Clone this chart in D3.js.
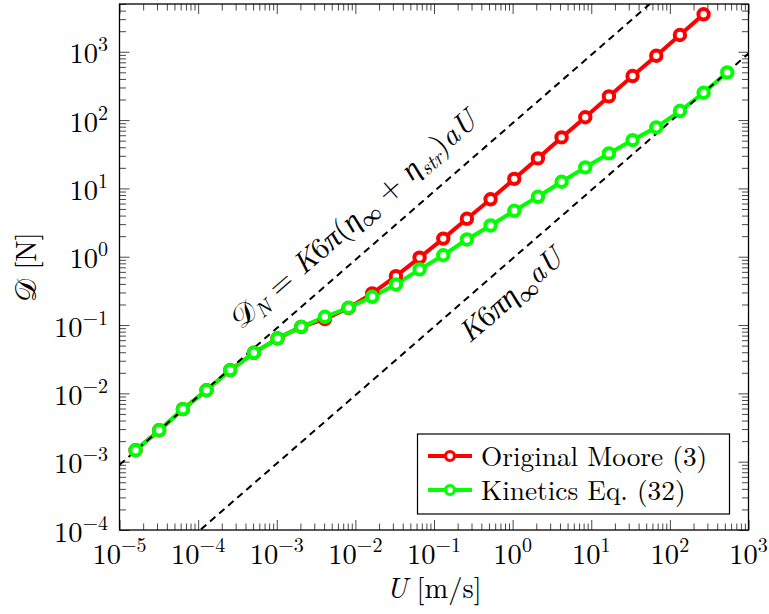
<!DOCTYPE html>
<html>
<head>
<meta charset="utf-8">
<script src="https://cdn.jsdelivr.net/npm/d3@7"></script>
<style>
  body { margin: 0; background: #fff; }
</style>
</head>
<body>
<div id="chart"></div>
<script>
// velocity U [m/s] at each sample
const uValues = [1.6e-5, 3.2e-5, 6.4e-5, 1.28e-4, 2.56e-4, 5.12e-4, 1.024e-3, 2.048e-3,
  4.096e-3, 8.192e-3, 1.638e-2, 3.277e-2, 6.554e-2, 0.1311, 0.2621, 0.5243, 1.049,
  2.097, 4.194, 8.389, 16.78, 33.55, 67.11, 134.2, 268.4, 536.9]

// drag D [N]
const mooreD = [1.47e-3, 2.89e-3, 5.87e-3, 1.11e-2, 2.19e-2, 3.92e-2, 6.37e-2, 9.4e-2,
  0.122, 0.178, 0.290, 0.520, 0.97, 1.84, 3.59, 6.92, 13.8, 27.5, 55.8, 110, 222,
  441, 874, 1757, 3531]
const kineticsD = [1.47e-3, 2.89e-3, 5.87e-3, 1.11e-2, 2.19e-2, 3.92e-2, 6.37e-2, 9.4e-2,
  0.132, 0.179, 0.259, 0.393, 0.652, 1.05, 1.79, 2.87, 4.70, 7.53, 12.5, 20.3, 32.5,
  50.9, 78.2, 135.5, 251, 499]

// slopes of the two asymptotes D = c * U
const newtonCoef = 90
const viscousCoef = 0.94

const xMajor = [1e-5, 1e-4, 1e-3, 1e-2, 1e-1, 1e0, 1e1, 1e2, 1e3]
const xExp = ['−5', '−4', '−3', '−2', '−1', '0', '1', '2', '3']
const yMajor = [1e-4, 1e-3, 1e-2, 1e-1, 1e0, 1e1, 1e2, 1e3]
const yExp = ['−4', '−3', '−2', '−1', '0', '1', '2', '3']

const seriesNames = ['Original Moore (3)', 'Kinetics Eq. (32)']
const seriesColors = ['#ff0000', '#00ff00']

const W = 769, H = 614
const L = 119.5, R = 748.5, T = 4, B = 530
const serif = "'Latin Modern Roman', 'Liberation Serif', serif"

const svg = d3.select('#chart').append('svg')
  .attr('width', W).attr('height', H)

const txt = (parent, size) => parent.append('text')
  .style('font-family', serif).style('font-size', size + 'px').attr('fill', '#000')

const x = d3.scaleLog().domain([1e-5, 1e3]).range([L, R])
const y = d3.scaleLog().domain([1e-4, 5000]).range([B, T])

// minor ticks 2..9 in every decade
const minors = (lo, hi, max) => {
  const out = []
  for (let e = lo; e < hi; e++)
    for (let m = 2; m <= 9; m++) {
      const v = m * Math.pow(10, e)
      if (v <= max) out.push(v)
    }
  return out
}
const xMinor = minors(-5, 3, 1e3)
const yMinor = minors(-4, 4, 5000)

const tickStyle = g => {
  g.select('.domain').remove()
  g.selectAll('line').attr('stroke', '#333').attr('stroke-width', 0.9)
}

svg.append('g').attr('transform', `translate(0,${B})`)
  .call(d3.axisBottom(x).tickValues(xMajor).tickSize(-10).tickFormat(''))
  .call(tickStyle)
svg.append('g').attr('transform', `translate(0,${B})`)
  .call(d3.axisBottom(x).tickValues(xMinor).tickSize(-6.5).tickFormat(''))
  .call(tickStyle)
svg.append('g').attr('transform', `translate(0,${T})`)
  .call(d3.axisTop(x).tickValues(xMajor).tickSize(-10).tickFormat(''))
  .call(tickStyle)
svg.append('g').attr('transform', `translate(0,${T})`)
  .call(d3.axisTop(x).tickValues(xMinor).tickSize(-6.5).tickFormat(''))
  .call(tickStyle)
svg.append('g').attr('transform', `translate(${L},0)`)
  .call(d3.axisLeft(y).tickValues(yMajor).tickSize(-10).tickFormat(''))
  .call(tickStyle)
svg.append('g').attr('transform', `translate(${L},0)`)
  .call(d3.axisLeft(y).tickValues(yMinor).tickSize(-6.5).tickFormat(''))
  .call(tickStyle)
svg.append('g').attr('transform', `translate(${R},0)`)
  .call(d3.axisRight(y).tickValues(yMajor).tickSize(-10).tickFormat(''))
  .call(tickStyle)
svg.append('g').attr('transform', `translate(${R},0)`)
  .call(d3.axisRight(y).tickValues(yMinor).tickSize(-6.5).tickFormat(''))
  .call(tickStyle)

// tick labels 10^n
const pow10 = (sel, exp) => {
  sel.append('tspan').text('10')
  sel.append('tspan').attr('dy', -12).style('font-size', '20px').text(exp)
}
xMajor.forEach((v, i) => {
  txt(svg, 28.5).attr('x', x(v)).attr('y', 564)
    .attr('text-anchor', 'middle')
    .call(pow10, xExp[i])
})
yMajor.forEach((v, i) => {
  txt(svg, 28.5).attr('x', 108).attr('y', y(v) + 11.5)
    .attr('text-anchor', 'end')
    .call(pow10, yExp[i])
})

// axis titles
const xt = txt(svg, 28.5).attr('x', 434).attr('y', 598).attr('text-anchor', 'middle')
xt.append('tspan').style('font-style', 'italic').text('U')
xt.append('tspan').attr('dx', 9).text('[m/s]')

const yt = txt(svg, 28.5).attr('transform', 'translate(36,267) rotate(-90)')
  .attr('text-anchor', 'middle')
yt.append('tspan').text('𝒟')
yt.append('tspan').attr('dx', 9).text('[N]')

// plotting area
svg.append('clipPath').attr('id', 'clip')
  .append('rect').attr('x', L).attr('y', T).attr('width', R - L).attr('height', B - T)
const plot = svg.append('g').attr('clip-path', 'url(#clip)')

const line = d3.line().x(d => x(d[0])).y(d => y(d[1]))
const series = [
  mooreD.map((d, i) => [uValues[i], d]),
  kineticsD.map((d, i) => [uValues[i], d])
]

series.forEach((pts, s) => {
  plot.append('path').datum(pts)
    .attr('d', line).attr('fill', 'none')
    .attr('stroke', seriesColors[s]).attr('stroke-width', 4)
    .attr('stroke-linejoin', 'round')
})

const asym = [newtonCoef, viscousCoef]
asym.forEach(c => {
  plot.append('path').datum(x.domain().map(u => [u, c * u]))
    .attr('d', line).attr('fill', 'none')
    .attr('stroke', '#000').attr('stroke-width', 2)
    .attr('stroke-dasharray', '7,5')
})

series.forEach((pts, s) => {
  plot.selectAll(null).data(pts).enter().append('circle')
    .attr('cx', d => x(d[0])).attr('cy', d => y(d[1]))
    .attr('r', 5.2).attr('fill', '#fff')
    .attr('stroke', seriesColors[s]).attr('stroke-width', 4)
})

// frame
svg.append('rect').attr('x', L).attr('y', T).attr('width', R - L).attr('height', B - T)
  .attr('fill', 'none').attr('stroke', '#000').attr('stroke-width', 1.3)

// sloped annotations along the asymptotes
// parts: [text, dy, upright, subscript]
const angle = Math.atan2(y(1) - y(10), x(10) - x(1)) * 180 / Math.PI
const label = (u, c, off, size, parts) => {
  const t = txt(svg, size)
    .attr('transform', `translate(${x(u)},${y(c * u)}) rotate(${-angle})`)
    .attr('y', off).attr('text-anchor', 'middle')
    .style('font-style', 'italic')
  parts.forEach(p => {
    const sp = t.append('tspan').text(p[0])
    if (p[1]) sp.attr('dy', p[1])
    if (p[2]) sp.style('font-style', 'normal')
    if (p[3]) sp.style('font-size', Math.round(size * 0.7) + 'px')
  })
}
label(0.0173, newtonCoef, -22, 30, [
  ['𝒟', 0, 1], ['N', 6, 0, 1], [' = ', -6, 1], ['K'], ['6', 0, 1], ['π'], ['(', 0, 1], ['η'],
  ['∞', 6, 1, 1], [' + ', -6, 1], ['η'], ['str', 6, 0, 1], [')', -6, 1], ['aU']
])
label(0.57, viscousCoef, 36, 30, [
  ['K'], ['6', 0, 1], ['π'], ['η'], ['∞', 6, 1, 1], ['aU', -6]
])

// legend
const lg = svg.append('g')
lg.append('rect').attr('x', 417.5).attr('y', 434).attr('width', 312).attr('height', 80)
  .attr('fill', '#fff').attr('stroke', '#000').attr('stroke-width', 1.2)
seriesNames.forEach((name, i) => {
  const cy = 456 + i * 34
  lg.append('line').attr('x1', 428).attr('x2', 472).attr('y1', cy).attr('y2', cy)
    .attr('stroke', seriesColors[i]).attr('stroke-width', 4)
  lg.append('circle').attr('cx', 450).attr('cy', cy).attr('r', 4.5)
    .attr('fill', '#fff').attr('stroke', seriesColors[i]).attr('stroke-width', 3.2)
  txt(lg, 27.3).attr('x', 481).attr('y', cy + 9.5).text(name)
})
</script>
</body>
</html>
